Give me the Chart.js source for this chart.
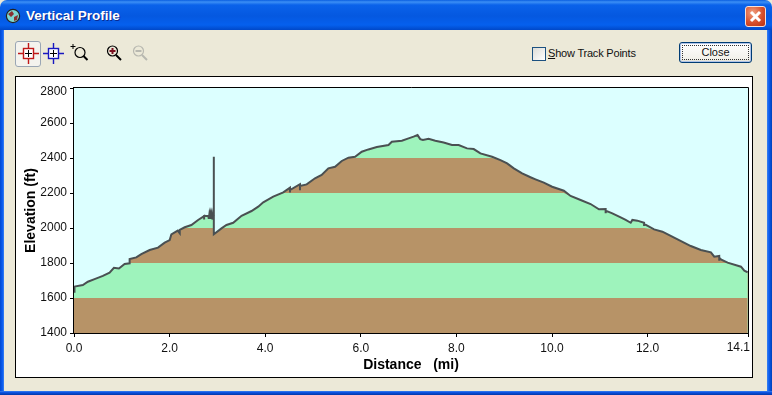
<!DOCTYPE html>
<html>
<head>
<meta charset="utf-8">
<title>Vertical Profile</title>
<script src="https://cdn.jsdelivr.net/npm/chart.js@4"></script>
<style>
  html, body { margin: 0; padding: 0; }
  body { width: 772px; height: 395px; overflow: hidden; position: relative; background: #ece9d8; font-family: "Liberation Sans", Arial, sans-serif; }
  .abs { position: absolute; }
  #titlebar { left: 0; top: 0; width: 772px; height: 30px; border-radius: 7px 7px 0 0;
    background: linear-gradient(#0a5ee0 0, #3c8ff5 2px, #0a62ea 5px, #0558e0 16px, #0560ee 25px, #0048c8 30px); }
  #titletext { left: 26px; top: 8px; color: #fff; font: bold 13.5px "Liberation Sans", sans-serif; text-shadow: 1px 1px 0 #0a2a90; white-space: nowrap; }
  #left { left: 0; top: 30px; width: 4px; height: 365px; background: linear-gradient(90deg, #0048d0, #0a5cf0 60%, #3c82f0); }
  #right { left: 767px; top: 30px; width: 5px; height: 365px; background: linear-gradient(90deg, #3c82f0, #0a5cf0 40%, #0040b8); }
  #bottom { left: 0; top: 391px; width: 772px; height: 4px; background: linear-gradient(#3c82f0, #0a50e0 40%, #0038a8); }
  #xbtn { left: 745px; top: 6px; width: 19px; height: 19px; border: 1px solid #f6e0d8; border-radius: 3px;
    background: radial-gradient(circle at 35% 30%, #f0a080, #d8502c 55%, #b83010); }
  #box { left: 15px; top: 76px; width: 736px; height: 300px; border: 1px solid #000; background: #fff; }
  #chart { position: absolute; left: 0; top: 0; display: block; }
  #check { left: 532px; top: 47px; width: 12px; height: 12px; border: 1px solid #1c5180; background: linear-gradient(135deg, #dcdcd7, #fff); }
  #checklabel { left: 548px; top: 47px; font: 11px "Liberation Sans", sans-serif; letter-spacing: -0.2px; color: #111; white-space: nowrap; }
  #close { left: 679px; top: 42px; width: 71px; height: 19px; border: 1px solid #003c74; border-radius: 3px; box-shadow: inset 0 0 0 1px #b0c4e8;
    background: linear-gradient(#fff, #f2f1ea 85%, #dcd8c8); text-align: center; font: 11px/19px "Liberation Sans", sans-serif; color: #111; }
  #close span { position: absolute; left: 2px; top: 2px; right: 2px; bottom: 2px; border: 1px dotted #333; line-height: 13px; }
  #tool1 { left: 15px; top: 41px; width: 24px; height: 24px; border: 1px solid #9aa6b4; border-radius: 3px; background: #f4f3ee; }
</style>
</head>
<body>
<div id="titlebar" class="abs"></div>
<svg class="abs" style="left:5px;top:8px" width="16" height="16" viewBox="0 0 16 16">
  <circle cx="8" cy="8" r="6.6" fill="#7fd8d0" stroke="#222" stroke-width="1.2"/>
  <path d="M3 6 L7 3 L9 6 L6 9 Z M9 9 L13 7 L12 12 L9 13 Z" fill="#8a3030"/>
</svg>
<div id="titletext" class="abs">Vertical Profile</div>
<div id="xbtn" class="abs">
  <svg width="19" height="19" viewBox="0 0 19 19"><path d="M5 5 L14 14 M14 5 L5 14" stroke="#fff" stroke-width="3"/></svg>
</div>
<div id="left" class="abs"></div>
<div id="right" class="abs"></div>
<div id="bottom" class="abs"></div>

<div id="tool1" class="abs"></div>
<svg class="abs" style="left:16px;top:41px" width="140" height="24" viewBox="0 0 140 24" fill="none">
  <g stroke="#c01818" stroke-width="1.4"><rect x="7.5" y="7.5" width="10" height="10" fill="#fff"/><path d="M12.5 2 V7 M12.5 18 V23 M2 12.5 H7 M18 12.5 H23"/></g>
  <path d="M12.5 9 V16 M9 12.5 H16" stroke="#000"/>
  <g stroke="#1818c0" stroke-width="1.4"><rect x="32.5" y="7.5" width="10" height="10" fill="#fff"/><path d="M37.5 2 V7 M37.5 18 V23 M27 12.5 H32 M43 12.5 H48"/></g>
  <path d="M37.5 9 V16 M34 12.5 H41" stroke="#000"/>
  <circle cx="64" cy="11.5" r="5" stroke="#000" stroke-width="1.2"/>
  <path d="M67.5 15 L71.5 19" stroke="#000" stroke-width="2"/>
  <path d="M57 3 V8 M54.5 5.5 H59.5" stroke="#000"/>
  <circle cx="96.5" cy="10" r="5" stroke="#000" stroke-width="1.2"/>
  <path d="M100 14 L105 19" stroke="#000" stroke-width="2"/>
  <path d="M96.5 7 V13 M93.5 10 H99.5" stroke="#7a1020" stroke-width="2"/>
  <circle cx="122.5" cy="10" r="5" stroke="#b8b8b0" stroke-width="1.2"/>
  <path d="M126 14 L131 19" stroke="#b8b8b0" stroke-width="2"/>
  <path d="M119.5 10 H125.5" stroke="#b8b8b0" stroke-width="2"/>
</svg>

<div id="check" class="abs"></div>
<div id="checklabel" class="abs"><u>S</u>how Track Points</div>
<div id="close" class="abs"><span>Close</span></div>

<div id="box" class="abs"><canvas id="chart" width="736" height="300"></canvas></div>

<script>
// profile, the spike at 2.925 mi is in the original
const distances = [0.0, 0.01, 0.185, 0.29, 0.43, 0.604, 0.744, 0.835, 0.94, 1.059, 1.164, 1.164, 1.303, 1.408, 1.583, 1.757, 1.897, 2.002, 2.037, 2.17, 2.212, 2.212, 2.317, 2.456, 2.596, 2.722, 2.722, 2.722, 2.78, 2.81, 2.82, 2.83, 2.84, 2.85, 2.86, 2.87, 2.88, 2.89, 2.9, 2.925, 2.925, 2.925, 3.085, 3.19, 3.33, 3.505, 3.714, 3.854, 3.959, 4.168, 4.378, 4.518, 4.518, 4.518, 4.727, 4.727, 4.727, 4.867, 5.042, 5.181, 5.321, 5.461, 5.601, 5.741, 5.88, 6.02, 6.16, 6.335, 6.579, 6.649, 6.859, 6.999, 7.104, 7.187, 7.243, 7.299, 7.418, 7.558, 7.733, 7.907, 8.047, 8.222, 8.362, 8.502, 8.746, 8.921, 9.061, 9.201, 9.375, 9.55, 9.654, 9.829, 10.003, 10.248, 10.388, 10.598, 10.807, 10.982, 11.122, 11.122, 11.122, 11.262, 11.436, 11.541, 11.646, 11.681, 11.786, 11.926, 11.926, 11.926, 12.135, 12.31, 12.555, 12.904, 13.114, 13.324, 13.394, 13.498, 13.498, 13.498, 13.533, 13.673, 13.953, 14.023, 14.093];
const elevations = [1636, 1665, 1674, 1693, 1708, 1726, 1745, 1773, 1769, 1794, 1798, 1823, 1832, 1851, 1874, 1888, 1916, 1931, 1964, 1985, 1970, 1990, 2004, 2017, 2046, 2068, 2048, 2068, 2068, 2070, 2052, 2074, 2052, 2074, 2052, 2074, 2052, 2074, 2055, 2060, 2407, 1964, 1998, 2017, 2030, 2070, 2097, 2122, 2147, 2179, 2204, 2230, 2203, 2217, 2250, 2216, 2240, 2249, 2284, 2303, 2341, 2350, 2383, 2402, 2407, 2436, 2449, 2463, 2474, 2493, 2499, 2512, 2522, 2531, 2508, 2503, 2510, 2499, 2489, 2474, 2474, 2455, 2451, 2426, 2407, 2388, 2369, 2341, 2312, 2290, 2278, 2259, 2236, 2213, 2183, 2160, 2137, 2107, 2108, 2084, 2099, 2084, 2061, 2046, 2030, 2046, 2042, 2030, 2012, 2023, 1992, 1979, 1945, 1897, 1874, 1861, 1836, 1840, 1813, 1830, 1821, 1802, 1779, 1756, 1747];

const distanceTicks = [0, 2, 4, 6, 8, 10, 12, 14.1];
const elevationTicks = [1400, 1600, 1800, 2000, 2200, 2400, 2600, 2800];

// each band is the profile capped at its top, lowest drawn last so it sits over the others
const bandTops = [1600, 1800, 2000, 2200, 2400, 2600];
const bandColors = ['#b79367', '#9ef3bc', '#b79367', '#9ef3bc', '#b79367', '#9ef3bc'];

const tickFont = { family: 'Liberation Sans', size: 12 };
const titleFont = { family: 'Liberation Sans', size: 14, weight: 'bold' };

const points = distances.map((d, i) => ({ x: d, y: elevations[i] }));

const datasets = [{
    data: points,
    borderColor: '#4a5052',
    borderWidth: 2,
    pointRadius: 0,
    fill: false
}];
bandTops.forEach((top, i) => {
    datasets.push({
        data: points.map(p => ({ x: p.x, y: Math.min(p.y, top) })),
        borderWidth: 0,
        pointRadius: 0,
        backgroundColor: bandColors[i],
        fill: { value: 1400 }
    });
});

// sky behind the plot, thin top/right edge, and the two end labels that sit off their ticks
const frame = {
    id: 'frame',
    beforeDatasetsDraw(chart) {
        const a = chart.chartArea, ctx = chart.ctx;
        ctx.fillStyle = '#dcffff';
        ctx.fillRect(a.left, a.top, a.width, a.height);
    },
    afterDraw(chart) {
        const a = chart.chartArea, ctx = chart.ctx;
        ctx.save();
        ctx.strokeStyle = '#000';
        ctx.lineWidth = 1;
        ctx.beginPath();
        ctx.moveTo(a.left, a.top - 0.5);
        ctx.lineTo(a.right + 0.5, a.top - 0.5);
        ctx.lineTo(a.right + 0.5, a.bottom);
        ctx.stroke();
        ctx.fillStyle = '#111';
        ctx.font = '12px "Liberation Sans"';
        ctx.textAlign = 'right';
        ctx.textBaseline = 'top';
        ctx.fillText('14.1', chart.scales.x.getPixelForValue(14.1) + 2, a.bottom + 9);
        ctx.textBaseline = 'middle';
        ctx.fillText('2800', a.left - 7, chart.scales.y.getPixelForValue(2800) + 4);
        ctx.restore();
    }
};

new Chart(document.getElementById('chart'), {
    type: 'line',
    data: { datasets: datasets },
    plugins: [frame],
    options: {
        responsive: false,
        animation: false,
        events: [],
        parsing: false,
        normalized: true,
        layout: { padding: { top: 11, right: 4, bottom: 0, left: 0 } },
        plugins: { legend: { display: false }, tooltip: { enabled: false } },
        scales: {
            x: {
                type: 'linear',
                min: 0,
                max: 14.1,
                afterBuildTicks(scale) { scale.ticks = distanceTicks.map(v => ({ value: v })); },
                afterFit(scale) { scale.height = 44; },
                grid: { drawOnChartArea: false, color: '#000', tickLength: 4, lineWidth: 1 },
                border: { color: '#000', width: 2 },
                ticks: {
                    color: '#111',
                    font: tickFont,
                    padding: 4,
                    maxRotation: 0,
                    autoSkip: false,
                    callback: v => v === 14.1 ? '' : v.toFixed(1)
                },
                title: { display: true, text: 'Distance   (mi)', color: '#000', font: titleFont, padding: { top: 0, bottom: 3 } }
            },
            y: {
                type: 'linear',
                min: 1400,
                max: 2800,
                afterBuildTicks(scale) { scale.ticks = elevationTicks.map(v => ({ value: v })); },
                afterFit(scale) { scale.width = 58; },
                grid: { drawOnChartArea: false, color: '#000', tickLength: 4, lineWidth: 1 },
                border: { color: '#000', width: 2 },
                ticks: { color: '#111', font: tickFont, padding: 3, autoSkip: false, callback: v => v === 2800 ? '' : String(v) },
                title: { display: true, text: 'Elevation (ft)', color: '#000', font: titleFont, padding: { top: 7, bottom: 0 } }
            }
        }
    }
});
</script>
</body>
</html>
